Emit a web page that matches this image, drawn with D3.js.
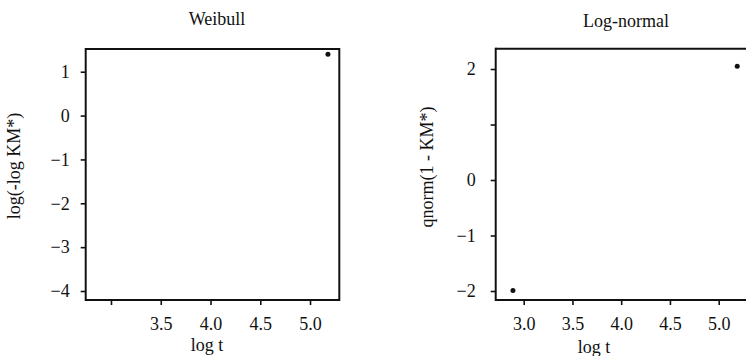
<!DOCTYPE html>
<html><head><meta charset="utf-8">
<script src="https://cdn.jsdelivr.net/npm/d3@7"></script>
<style>
body{margin:0;background:#fff;}
svg{display:block;}
text{font-family:"Liberation Serif","DejaVu Serif",serif;fill:#111;}
</style></head>
<body><svg id="c" width="746" height="356"></svg>
<script>
// Data
const weibullLogT = [5.18];
const weibullY = [1.40];
const lognormLogT = [2.89, 5.19];
const lognormY = [-1.99, 2.05];

const weibullXTicks = [3.0, 3.5, 4.0, 4.5, 5.0];
const weibullXLabels = ["", "3.5", "4.0", "4.5", "5.0"];
const weibullYTicks = [1, 0, -1, -2, -3, -4];
const weibullYLabels = ["1", "0", "\u22121", "\u22122", "\u22123", "\u22124"];
const lognormXTicks = [3.0, 3.5, 4.0, 4.5, 5.0];
const lognormXLabels = ["3.0", "3.5", "4.0", "4.5", "5.0"];
const lognormYTicks = [2, 1, 0, -1, -2];
const lognormYLabels = ["2", "", "0", "\u22121", "\u22122"];

const svg = d3.select("#c");

const panels = [
  {title:"Weibull", titleX:217, titleY:25, xlab:"log t", xlabX:207, xlabY:351,
   ylab:"log(-log KM*)", ylabX:20, ylabY:166,
   xd:[2.746,5.294], xr:[85.7,339.3], yd:[-4.205,1.518], yr:[300,49],
   xt:weibullXTicks, xl:weibullXLabels, yt:weibullYTicks, yl:weibullYLabels,
   px:weibullLogT, py:weibullY, right:true, ylabPad:11},
  {title:"Log-normal", titleX:626, titleY:27, xlab:"log t", xlabX:594, xlabY:353,
   ylab:"qnorm(1 - KM*)", ylabX:433, ylabY:167,
   xd:[2.713,5.28], xr:[495.7,746], yd:[-2.162,2.366], yr:[300,48.7],
   xt:lognormXTicks, xl:lognormXLabels, yt:lognormYTicks, yl:lognormYLabels,
   px:lognormLogT, py:lognormY, right:false, ylabPad:15}
];

panels.forEach(p => {
  const x = d3.scaleLinear().domain(p.xd).range(p.xr);
  const y = d3.scaleLinear().domain(p.yd).range(p.yr);
  const g = svg.append("g");
  const x0 = p.xr[0], x1 = p.xr[1], yT = p.yr[1], yB = p.yr[0];

  // axes
  const xa = g.append("g").attr("transform", `translate(0,${yB})`)
    .call(d3.axisBottom(x).tickValues(p.xt).tickSize(5).tickPadding(12)
      .tickFormat((d,i) => p.xl[i]));
  const ya = g.append("g").attr("transform", `translate(${x0},0)`)
    .call(d3.axisLeft(y).tickValues(p.yt).tickSize(5).tickPadding(p.ylabPad)
      .tickFormat((d,i) => p.yl[i]));
  [xa, ya].forEach(a => {
    a.select(".domain").remove();
    a.selectAll(".tick line").attr("stroke", "#111").attr("stroke-width", 1.6);
    a.selectAll(".tick text").style("font-size", "18px")
      .style("font-family", '"Liberation Serif",serif').attr("fill", "#111");
  });

  // box
  const bw = 2;
  g.append("line").attr("x1", x0).attr("x2", x1).attr("y1", yT).attr("y2", yT)
    .attr("stroke", "#111").attr("stroke-width", bw);
  g.append("line").attr("x1", x0).attr("x2", x1).attr("y1", yB).attr("y2", yB)
    .attr("stroke", "#111").attr("stroke-width", bw);
  g.append("line").attr("x1", x0).attr("x2", x0).attr("y1", yT - 1).attr("y2", yB + 1)
    .attr("stroke", "#111").attr("stroke-width", bw);
  if (p.right) {
    g.append("line").attr("x1", x1).attr("x2", x1).attr("y1", yT - 1).attr("y2", yB + 1)
      .attr("stroke", "#111").attr("stroke-width", bw);
  }

  // points
  g.selectAll("circle.pt").data(p.px.map((v,i) => [v, p.py[i]])).enter()
    .append("circle").attr("class", "pt")
    .attr("cx", d => x(d[0])).attr("cy", d => y(d[1])).attr("r", 2.5)
    .attr("fill", "#111");

  // text
  g.append("text").attr("x", p.titleX).attr("y", p.titleY)
    .attr("text-anchor", "middle").style("font-size", "18px").text(p.title);
  g.append("text").attr("x", p.xlabX).attr("y", p.xlabY)
    .attr("text-anchor", "middle").style("font-size", "18px").text(p.xlab);
  g.append("text").attr("transform", `translate(${p.ylabX},${p.ylabY}) rotate(-90)`)
    .attr("text-anchor", "middle").style("font-size", "18px").text(p.ylab);
});
</script></body></html>
